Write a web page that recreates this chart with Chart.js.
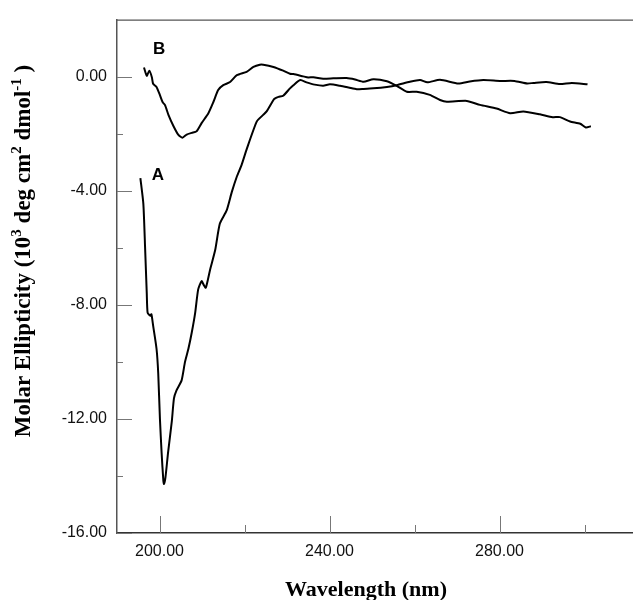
<!DOCTYPE html>
<html>
<head>
<meta charset="utf-8">
<script src="https://cdn.jsdelivr.net/npm/chart.js@4.4.1/dist/chart.umd.min.js"></script>
<style>
  html, body { margin: 0; padding: 0; background: #fff; }
  #wrap { width: 633px; height: 600px; position: relative; }
</style>
</head>
<body>
<div id="wrap"><canvas id="cdChart"></canvas></div>
<script>
// ===== Date =====
const wavelengthA = [195.5, 196.2, 196.6, 197.0, 197.2, 197.8, 198.1, 198.5, 199.3, 199.7, 200.1, 200.5, 200.9, 201.05, 201.4, 202.0, 202.9, 203.4, 204.0, 205.2, 206.0, 206.8, 207.6, 208.4, 209.1, 209.9, 210.4, 210.9, 211.9, 213.1, 214.2, 215.8, 217.0, 218.2, 219.3, 220.5, 222.9, 224.4, 225.2, 226.8, 227.2, 228.0, 229.1, 230.7, 231.5, 233.1, 234.6, 236.5, 238.5, 240.1, 242.5, 244.5, 246.4, 248.0, 250.3, 253.5, 255.8, 258.9, 261.3, 263.0, 266.0, 270.3, 273.0, 276.2, 280.1, 283.5, 286.5, 288.0, 291.0, 294.2, 297.0, 300.7];
const ellipticityA = [-3.56, -4.46, -5.96, -7.58, -8.27, -8.38, -8.33, -8.73, -9.54, -10.4, -12.0, -13.2, -14.16, -14.28, -14.05, -13.2, -12.08, -11.28, -11.0, -10.65, -10.0, -9.54, -8.96, -8.27, -7.46, -7.17, -7.3, -7.4, -6.77, -6.08, -5.15, -4.69, -4.05, -3.5, -3.1, -2.55, -1.57, -1.34, -1.22, -0.82, -0.76, -0.71, -0.67, -0.41, -0.3, -0.12, -0.2, -0.28, -0.32, -0.27, -0.32, -0.38, -0.44, -0.43, -0.41, -0.36, -0.3, -0.18, -0.12, -0.2, -0.11, -0.24, -0.17, -0.12, -0.15, -0.15, -0.24, -0.22, -0.19, -0.26, -0.22, -0.27];

const wavelengthB = [196.35, 197.0, 197.6, 198.2, 198.5, 199.3, 200.1, 200.75, 201.3, 202.1, 203.3, 204.4, 205.4, 206.4, 207.6, 208.7, 209.9, 211.5, 212.7, 213.8, 215.0, 216.6, 218.2, 220.5, 222.1, 223.6, 224.4, 226.8, 229.1, 230.7, 231.5, 233.8, 235.0, 236.2, 238.5, 240.9, 244.0, 246.0, 248.0, 250.3, 253.5, 255.8, 258.2, 260.5, 263.6, 266.0, 267.6, 272.3, 275.4, 279.3, 282.5, 285.6, 289.5, 292.5, 294.2, 296.6, 299.0, 300.3, 301.5];
const ellipticityB = [0.32, 0.03, 0.21, -0.02, -0.25, -0.36, -0.65, -0.9, -1.0, -1.34, -1.74, -2.03, -2.14, -2.03, -1.97, -1.92, -1.63, -1.28, -0.88, -0.47, -0.3, -0.19, 0.05, 0.17, 0.34, 0.42, 0.42, 0.34, 0.21, 0.1, 0.09, 0.01, -0.03, -0.02, -0.07, -0.06, -0.05, -0.1, -0.18, -0.09, -0.16, -0.32, -0.53, -0.53, -0.64, -0.82, -0.88, -0.85, -0.99, -1.12, -1.28, -1.22, -1.32, -1.42, -1.42, -1.57, -1.65, -1.78, -1.74];

// ===== Axe / etichete =====
const xTicks = [200, 220, 240, 260, 280, 300];
const xLabelTicks = [200, 240, 280];
const yTicks = [-16, -14, -12, -10, -8, -6, -4, -2, 0];
const yLabelTicks = [-16, -12, -8, -4, 0];
const curveNames = ["A", "B"];
const curveNameX = [199.6, 199.9];
const curveNameY = [-3.45, 0.95];

const toPoints = (xs, ys) => xs.map((x, i) => ({ x, y: ys[i] }));

// ===== Plugin: ticks spre interior, rama de sus, titluri, litere A/B =====
const cdDecor = {
  id: "cdDecor",
  afterDraw(chart) {
    const { ctx, chartArea: a, scales } = chart;
    const xs = scales.x, ys = scales.y;
    ctx.save();

    // rama de sus
    ctx.strokeStyle = "#555";
    ctx.lineWidth = 1.2;
    ctx.beginPath();
    ctx.moveTo(a.left, a.top + 0.5);
    ctx.lineTo(a.right, a.top + 0.5);
    ctx.stroke();

    // ticks interioare
    ctx.strokeStyle = "#777";
    ctx.lineWidth = 1;
    xTicks.forEach(v => {
      const px = Math.round(xs.getPixelForValue(v)) + 0.5;
      const len = xLabelTicks.includes(v) ? 17 : 8;
      ctx.beginPath();
      ctx.moveTo(px, a.bottom);
      ctx.lineTo(px, a.bottom - len);
      ctx.stroke();
    });
    yTicks.forEach(v => {
      const py = Math.round(ys.getPixelForValue(v)) + 0.5;
      const len = yLabelTicks.includes(v) ? 15 : 6;
      ctx.beginPath();
      ctx.moveTo(a.left, py);
      ctx.lineTo(a.left + len, py);
      ctx.stroke();
    });

    // litere A / B
    ctx.fillStyle = "#000";
    ctx.font = "bold 17px 'Liberation Sans', Arial, sans-serif";
    ctx.textAlign = "center";
    ctx.textBaseline = "middle";
    curveNames.forEach((n, i) => {
      ctx.fillText(n, xs.getPixelForValue(curveNameX[i]), ys.getPixelForValue(curveNameY[i]));
    });

    // titlu axa X
    ctx.font = "bold 22px 'Liberation Serif', 'Times New Roman', serif";
    ctx.textBaseline = "alphabetic";
    ctx.fillText("Wavelength (nm)", 366, 596);

    // titlu axa Y (cu exponenti)
    const big = "bold 23px 'Liberation Serif', 'Times New Roman', serif";
    const small = "bold 15px 'Liberation Serif', 'Times New Roman', serif";
    const parts = [
      [big, "Molar Ellipticity (10", 0],
      [small, "3", -9],
      [big, " deg cm", 0],
      [small, "2", -9],
      [big, " dmol", 0],
      [small, "-1", -9],
      [big, " )", 0]
    ];
    let total = 0;
    parts.forEach(p => { ctx.font = p[0]; total += ctx.measureText(p[1]).width; });
    ctx.translate(30, 251);
    ctx.rotate(-Math.PI / 2);
    ctx.textAlign = "left";
    let cx = -total / 2;
    parts.forEach(p => {
      ctx.font = p[0];
      ctx.fillText(p[1], cx, p[2]);
      cx += ctx.measureText(p[1]).width;
    });
    ctx.restore();
  }
};

const lineStyle = {
  borderColor: "#000",
  borderWidth: 2,
  pointRadius: 0,
  tension: 0.2,
  fill: false
};

new Chart(document.getElementById("cdChart"), {
  type: "line",
  data: {
    datasets: [
      { label: "A", data: toPoints(wavelengthA, ellipticityA), ...lineStyle },
      { label: "B", data: toPoints(wavelengthB, ellipticityB), ...lineStyle }
    ]
  },
  options: {
    responsive: true,
    maintainAspectRatio: false,
    animation: false,
    layout: { padding: { top: 14, right: 0, left: 0, bottom: 0 } },
    plugins: { legend: { display: false }, tooltip: { enabled: false } },
    scales: {
      x: {
        type: "linear",
        min: 190,
        max: 311.4,
        afterBuildTicks: s => { s.ticks = xTicks.map(v => ({ value: v })); },
        afterFit: s => { s.height = 67; },
        grid: { display: false, drawTicks: false },
        border: { display: true, color: "#333", width: 1.5 },
        ticks: {
          autoSkip: false,
          maxRotation: 0,
          padding: 9,
          color: "#111",
          font: { family: "'Liberation Sans', Arial, sans-serif", size: 16 },
          callback: v => xLabelTicks.includes(v) ? v.toFixed(2) : ""
        }
      },
      y: {
        type: "linear",
        min: -16,
        max: 2,
        afterBuildTicks: s => { s.ticks = yTicks.map(v => ({ value: v })); },
        afterFit: s => { s.width = 117; },
        grid: { display: false, drawTicks: false },
        border: { display: true, color: "#555", width: 1.5 },
        ticks: {
          autoSkip: false,
          padding: 10,
          color: "#111",
          font: { family: "'Liberation Sans', Arial, sans-serif", size: 16 },
          callback: v => yLabelTicks.includes(v) ? v.toFixed(2) : ""
        }
      }
    }
  },
  plugins: [cdDecor]
});
</script>
</body>
</html>
